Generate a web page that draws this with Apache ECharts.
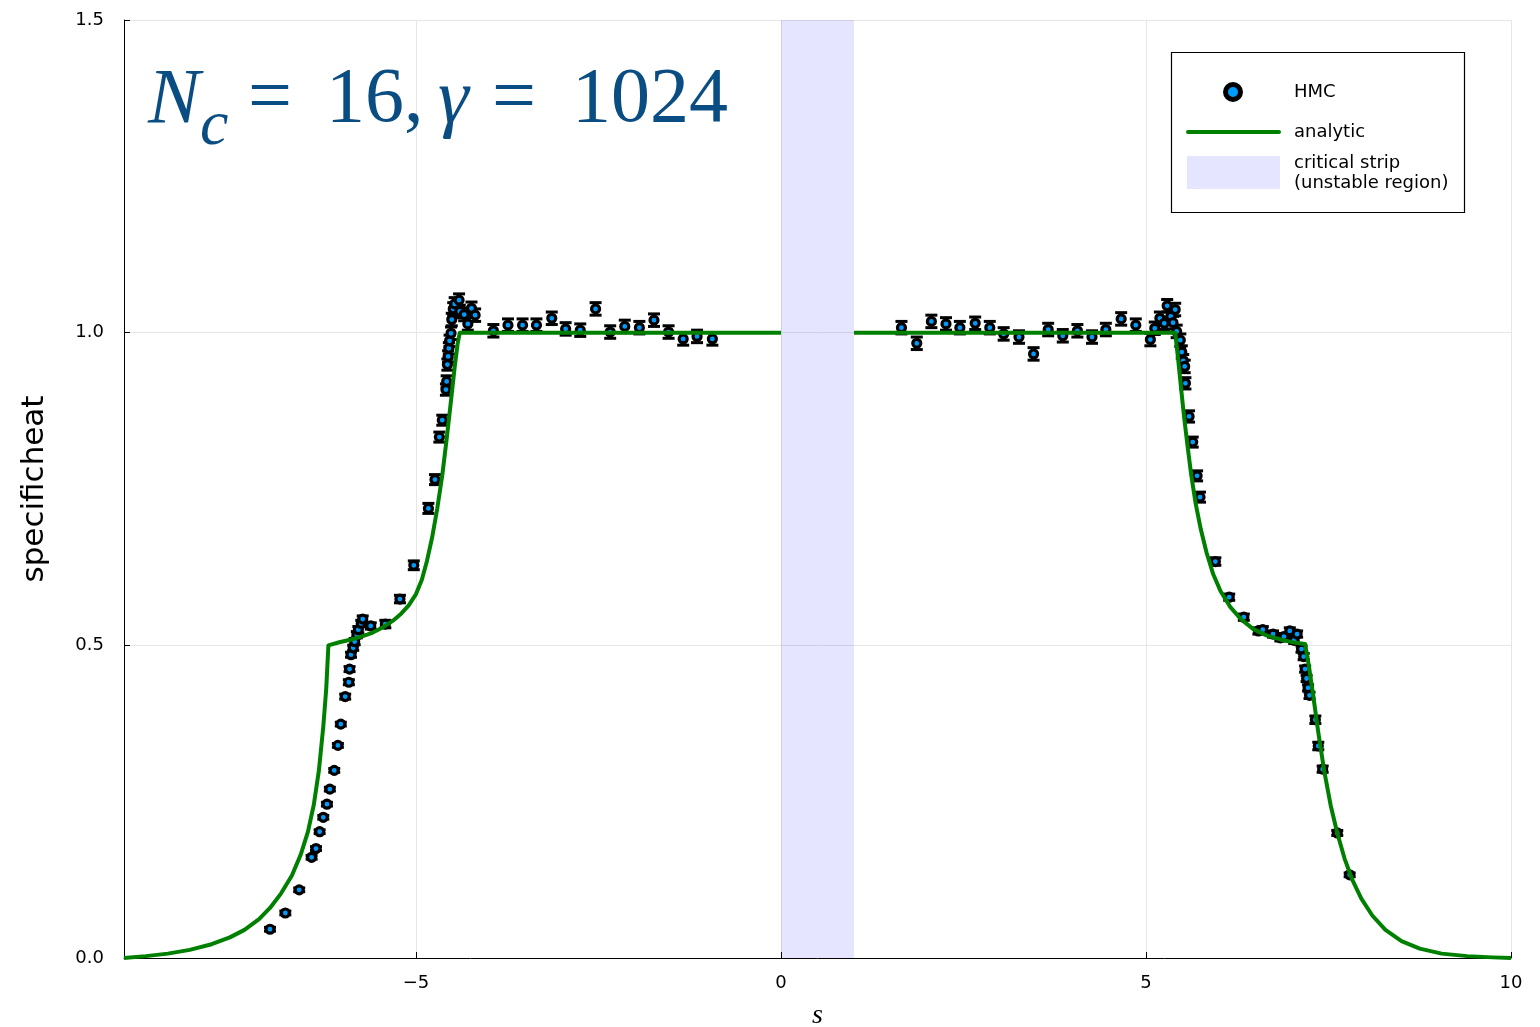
<!DOCTYPE html>
<html><head><meta charset="utf-8">
<script src="https://cdn.jsdelivr.net/npm/echarts@6/dist/echarts.min.js"></script>
<style>html,body{margin:0;padding:0;background:#fff}#c{width:1540px;height:1027px}</style>
</head><body><div id="c"></div>
<script>
// HMC measurements (s, specific heat, error)
const hmcS = [
  -7.00,-6.79,-6.60,-6.43,-6.37,-6.32,-6.27,-6.22,-6.18,-6.12,-6.07,-6.03,-5.97,-5.92,-5.91,-5.89,-5.86,-5.84,-5.81,-5.79,-5.75,-5.73,-5.62,-5.42,-5.22,
  -5.03,-4.83,-4.74,-4.68,-4.64,-4.59,-4.58,-4.57,-4.56,-4.55,-4.54,-4.52,-4.51,-4.49,-4.47,-4.41,-4.40,-4.34,-4.29,-4.24,-4.19,
  -3.94,-3.74,-3.54,-3.35,-3.14,-2.95,-2.75,-2.54,-2.34,-2.14,-1.94,-1.74,-1.54,-1.34,-1.15,-0.94,
  1.65,1.86,2.06,2.26,2.45,2.66,2.86,3.05,3.26,3.46,3.66,3.86,4.06,4.26,4.45,4.66,4.86,
  5.06,5.12,5.19,5.25,5.29,5.34,5.37,5.40,5.42,5.47,5.49,5.51,5.53,5.54,5.59,5.64,5.70,5.74,
  5.95,6.14,6.34,6.54,6.60,6.74,6.84,6.89,6.97,7.03,7.07,7.13,7.16,7.18,7.20,7.22,7.24,7.32,7.36,7.42,7.62,7.79
];
const hmcC = [
  0.046,0.072,0.109,0.161,0.175,0.202,0.225,0.246,0.270,0.300,0.340,0.374,0.418,0.441,0.462,0.485,0.496,0.506,0.517,0.525,0.535,0.542,0.531,0.534,0.574,
  0.628,0.719,0.765,0.833,0.860,0.909,0.922,0.949,0.962,0.975,0.987,0.999,1.021,1.038,1.046,1.052,1.034,1.029,1.014,1.039,1.028,
  1.003,1.012,1.012,1.012,1.023,1.006,1.004,1.038,1.001,1.010,1.008,1.020,1.001,0.990,0.994,0.990,
  1.008,0.983,1.018,1.014,1.008,1.015,1.008,0.998,0.993,0.966,1.005,0.995,1.003,0.993,1.005,1.022,1.012,
  0.989,1.007,1.023,1.015,1.043,1.026,1.016,1.037,1.002,0.988,0.969,0.955,0.946,0.919,0.866,0.825,0.771,0.737,
  0.634,0.577,0.545,0.523,0.525,0.518,0.512,0.514,0.523,0.508,0.518,0.494,0.482,0.462,0.447,0.432,0.420,0.381,0.339,0.302,0.200,0.133
];
const hmcErr = [
  0.003,0.003,0.003,0.003,0.003,0.003,0.003,0.003,0.003,0.003,0.003,0.003,0.004,0.004,0.004,0.004,0.004,0.005,0.005,0.005,0.005,0.005,0.005,0.006,0.006,
  0.007,0.008,0.008,0.008,0.008,0.009,0.009,0.009,0.009,0.009,0.009,0.010,0.010,0.010,0.010,0.010,0.010,0.010,0.010,0.010,0.010,
  0.010,0.010,0.010,0.010,0.010,0.010,0.010,0.010,0.010,0.010,0.010,0.010,0.010,0.010,0.010,0.010,
  0.010,0.010,0.010,0.010,0.010,0.010,0.010,0.010,0.010,0.010,0.010,0.010,0.010,0.010,0.010,0.010,0.010,
  0.010,0.010,0.010,0.010,0.010,0.010,0.010,0.010,0.010,0.010,0.010,0.010,0.010,0.009,0.009,0.008,0.008,0.008,
  0.006,0.005,0.005,0.005,0.005,0.005,0.005,0.005,0.005,0.005,0.005,0.005,0.005,0.005,0.005,0.005,0.005,0.006,0.006,0.005,0.004,0.003
];
// analytic curve
const analyticLeftS = [-9.0,-8.7,-8.4,-8.1,-7.8,-7.55,-7.35,-7.15,-7.0,-6.85,-6.7,-6.58,-6.48,-6.40,-6.33,-6.27,-6.23,-6.20,
  -6.05,-5.90,-5.75,-5.60,-5.45,-5.32,-5.20,-5.10,-5.00,-4.92,-4.85,-4.78,-4.71,-4.64,-4.58,-4.52,-4.47,-4.43,-4.40,0.0];
const analyticLeftC = [0.0,0.003,0.007,0.013,0.022,0.033,0.045,0.062,0.080,0.103,0.132,0.165,0.202,0.245,0.300,0.370,0.430,0.500,
  0.505,0.509,0.514,0.520,0.529,0.539,0.551,0.564,0.582,0.605,0.635,0.672,0.718,0.772,0.830,0.892,0.945,0.982,1.0,1.0];
const analyticRightS = [1.0,5.40,5.44,5.48,5.52,5.57,5.62,5.68,5.75,5.83,5.92,6.02,6.15,6.30,6.47,6.65,6.85,7.05,7.18,
  7.23,7.29,7.36,7.44,7.53,7.62,7.72,7.83,7.95,8.10,8.28,8.50,8.75,9.05,9.40,9.75,10.0];
const analyticRightC = [1.0,1.0,0.958,0.912,0.867,0.818,0.772,0.727,0.686,0.648,0.614,0.587,0.562,0.542,0.526,0.516,0.509,0.504,0.502,
  0.468,0.420,0.361,0.300,0.244,0.200,0.159,0.124,0.095,0.068,0.045,0.027,0.015,0.007,0.003,0.001,0.0];
// critical strip
const stripRange = [0, 1];
// ticks
const xTicks = [-5, 0, 5, 10];
const yTicks = [0, 0.5, 1.0, 1.5];

const chart = echarts.init(document.getElementById('c'), null, {renderer: 'canvas'});
const tickFont = 'DejaVu Sans';
const titleColor = '#0a4d82';
const zip = (a, b) => a.map((v, i) => [v, b[i]]);

const option = {
  animation: false,
  backgroundColor: '#ffffff',
  grid: {left: 124, top: 20, width: 1387, height: 938, containLabel: false, outerBoundsMode: 'none'},
  xAxis: {
    type: 'value', min: -9, max: 10,
    name: 's', nameLocation: 'middle', nameGap: 44,
    nameTextStyle: {fontFamily: 'Liberation Serif', fontStyle: 'italic', fontSize: 28, color: '#000'},
    axisLine: {onZero: false, lineStyle: {color: '#000', width: 1}},
    axisTick: {show: true, inside: true, length: 6, customValues: xTicks, lineStyle: {color: '#000', width: 1}},
    axisLabel: {customValues: xTicks, formatter: v => (v < 0 ? '\u2212' + Math.abs(v) : String(v)),
      fontFamily: tickFont, fontSize: 18, color: '#000', margin: 16},
    splitLine: {show: true, lineStyle: {color: '#e6e6e6', width: 1}}
  },
  yAxis: {
    type: 'value', min: yTicks[0], max: yTicks[yTicks.length - 1], interval: 0.5,
    name: 'specificheat', nameLocation: 'middle', nameGap: 74, nameRotate: 90,
    nameTextStyle: {fontFamily: tickFont, fontSize: 31, color: '#000'},
    axisLine: {show: true, onZero: false, lineStyle: {color: '#000', width: 1}},
    axisTick: {show: true, inside: true, length: 6, lineStyle: {color: '#000', width: 1}},
    axisLabel: {formatter: v => v.toFixed(1), fontFamily: tickFont, fontSize: 18, color: '#000', margin: 20},
    splitLine: {show: true, lineStyle: {color: '#e6e6e6', width: 1}}
  },
  series: [
    {
      name: 'strip', type: 'line', data: [], z: 1,
      markArea: {silent: true, itemStyle: {color: 'rgba(0,0,255,0.1)'},
        data: [[{xAxis: stripRange[0]}, {xAxis: stripRange[1]}]]}
    },
    {
      name: 'errbars', type: 'custom', z: 3,
      data: hmcS.map((s, i) => [s, hmcC[i], hmcErr[i]]),
      encode: {x: 0, y: 1},
      renderItem: (params, api) => {
        const x = api.value(0), y = api.value(1), e = api.value(2);
        const t = api.coord([x, y + e]), b = api.coord([x, y - e]);
        const hw = 6;
        return {type: 'group', children: [
          {type: 'line', shape: {x1: t[0], y1: t[1], x2: b[0], y2: b[1]}, style: {stroke: '#000', lineWidth: 2}},
          {type: 'line', shape: {x1: t[0] - hw, y1: t[1], x2: t[0] + hw, y2: t[1]}, style: {stroke: '#000', lineWidth: 3}},
          {type: 'line', shape: {x1: b[0] - hw, y1: b[1], x2: b[0] + hw, y2: b[1]}, style: {stroke: '#000', lineWidth: 3}}
        ]};
      }
    },
    {
      name: 'HMC', type: 'scatter', z: 4,
      data: zip(hmcS, hmcC),
      symbol: 'circle', symbolSize: 8,
      itemStyle: {color: '#009afa', borderColor: '#000', borderWidth: 3.2, opacity: 1}
    },
    {
      name: 'analytic', type: 'line', z: 5, showSymbol: false,
      data: zip(analyticLeftS, analyticLeftC),
      lineStyle: {color: '#008000', width: 4, join: 'round'}
    },
    {
      name: 'analytic', type: 'line', z: 5, showSymbol: false,
      data: zip(analyticRightS, analyticRightC),
      lineStyle: {color: '#008000', width: 4, join: 'round'}
    }
  ],
  graphic: [
    // title annotation
    {type: 'text', left: 148, top: 62, z: 10,
      style: {text: 'N', fontFamily: 'Liberation Serif', fontStyle: 'italic', fontSize: 78, fill: titleColor}},
    {type: 'text', left: 200, top: 95, z: 10,
      style: {text: 'c', fontFamily: 'Liberation Serif', fontStyle: 'italic', fontSize: 64, fill: titleColor}},
    {type: 'text', left: 248, top: 62, z: 10,
      style: {text: '=', fontFamily: 'Liberation Serif', fontSize: 78, fill: titleColor}},
    {type: 'text', left: 326, top: 62, z: 10,
      style: {text: '16,', fontFamily: 'Liberation Serif', fontSize: 78, fill: titleColor}},
    {type: 'text', left: 438, top: 62, z: 10,
      style: {text: 'γ', fontFamily: 'Liberation Serif', fontStyle: 'italic', fontSize: 78, fill: titleColor}},
    {type: 'text', left: 492, top: 62, z: 10,
      style: {text: '=', fontFamily: 'Liberation Serif', fontSize: 78, fill: titleColor}},
    {type: 'text', left: 572, top: 62, z: 10,
      style: {text: '1024', fontFamily: 'Liberation Serif', fontSize: 78, fill: titleColor}},
    // legend
    {type: 'rect', shape: {x: 1171.5, y: 52.5, width: 293, height: 160}, style: {fill: '#fff', stroke: '#000', lineWidth: 1.2}, z: 20},
    {type: 'circle', shape: {cx: 1233, cy: 92, r: 7.5}, style: {fill: '#009afa', stroke: '#000', lineWidth: 5}, z: 21},
    {type: 'line', shape: {x1: 1188, y1: 132, x2: 1279, y2: 132}, style: {stroke: '#008000', lineWidth: 4, lineCap: 'round'}, z: 21},
    {type: 'rect', shape: {x: 1187, y: 156, width: 93, height: 33}, style: {fill: 'rgba(0,0,255,0.1)'}, z: 21},
    {type: 'text', x: 1294, y: 92, z: 21, style: {text: 'HMC', fontFamily: tickFont, fontSize: 18, fill: '#000', verticalAlign: 'middle'}},
    {type: 'text', x: 1294, y: 132, z: 21, style: {text: 'analytic', fontFamily: tickFont, fontSize: 18, fill: '#000', verticalAlign: 'middle'}},
    {type: 'text', x: 1294, y: 163, z: 21, style: {text: 'critical strip', fontFamily: tickFont, fontSize: 18, fill: '#000', verticalAlign: 'middle'}},
    {type: 'text', x: 1294, y: 183, z: 21, style: {text: '(unstable region)', fontFamily: tickFont, fontSize: 18, fill: '#000', verticalAlign: 'middle'}}
  ]
};
chart.setOption(option);
</script>
</body></html>
